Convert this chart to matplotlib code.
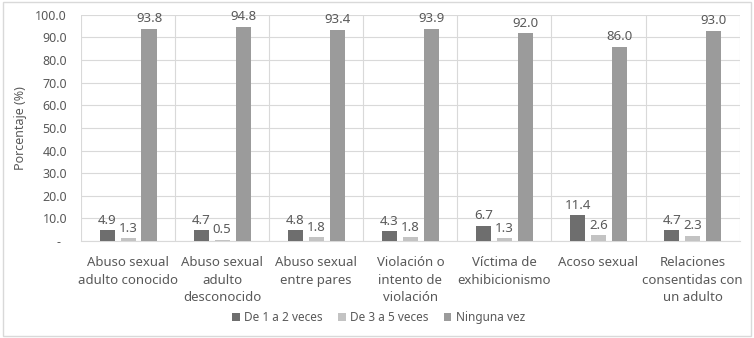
import matplotlib.pyplot as plt
import numpy as np

# datos
categorias = ['Abuso sexual\nadulto conocido', 'Abuso sexual\nadulto\ndesconocido',
              'Abuso sexual\nentre pares', 'Violación o\nintento de\nviolación',
              'Víctima de\nexhibicionismo', 'Acoso sexual',
              'Relaciones\nconsentidas con\nun adulto']
de_1_a_2 = [4.9, 4.7, 4.8, 4.3, 6.7, 11.4, 4.7]
de_3_a_5 = [1.3, 0.5, 1.8, 1.8, 1.3, 2.6, 2.3]
ninguna = [93.8, 94.8, 93.4, 93.9, 92.0, 86.0, 93.0]
series = ['De 1 a 2 veces', 'De 3 a 5 veces', 'Ninguna vez']

colores = ['#6e6e6e', '#c3c3c3', '#9b9b9b']
texto = '#595959'
plt.rcParams['font.family'] = ['Noto Sans', 'DejaVu Sans']

fig = plt.figure(figsize=(7.54, 3.38), dpi=100)
ax = fig.add_axes([0.1074, 0.287, 0.8736, 0.669])

x = np.arange(len(categorias))
ancho = 0.16
paso = 0.223
for k, (vals, nombre) in enumerate(zip([de_1_a_2, de_3_a_5, ninguna], series)):
    barras = ax.bar(x + (k - 1) * paso, vals, ancho, color=colores[k], label=nombre, zorder=3)
    for b, v in zip(barras, vals):
        ax.text(b.get_x() + b.get_width() / 2, v + 1.5, f'{v:.1f}', ha='center', va='bottom',
                fontsize=9.5, color=texto)

ax.set_xlim(-0.5, len(categorias) - 0.5)
ax.set_ylim(0, 100)
ax.set_yticks(np.arange(0, 101, 10))
ax.set_yticklabels(['-  '] + [f'{v:.1f}' for v in np.arange(10, 101, 10)], fontsize=9, color=texto)
ax.set_xticks(x)
ax.set_xticklabels(categorias, fontsize=9.5, color=texto, linespacing=1.45)
ax.tick_params(length=0, pad=11)
ax.tick_params(axis='y', pad=10)
ax.set_ylabel('Porcentaje (%)', fontsize=9, color=texto, labelpad=6)

ax.grid(axis='y', color='#d9d9d9', linewidth=0.8, zorder=0)
for s in np.arange(-0.5, len(categorias), 1):
    ax.axvline(s, color='#d9d9d9', linewidth=0.8, zorder=0)
for lado in ['top', 'right', 'left']:
    ax.spines[lado].set_visible(False)
ax.spines['bottom'].set_color('#d9d9d9')

fig.legend(loc='lower center', bbox_to_anchor=(0.502, 0.01), ncol=3, frameon=False,
           fontsize=8.5, labelcolor=texto, handlelength=0.65, handleheight=0.65,
           handletextpad=0.35, columnspacing=1.3)

borde = plt.Rectangle((0.004, 0.006), 0.992, 0.988, transform=fig.transFigure,
                      fill=False, edgecolor='#d9d9d9', linewidth=1)
fig.patches.append(borde)

fig.savefig('out.png', dpi=100)
